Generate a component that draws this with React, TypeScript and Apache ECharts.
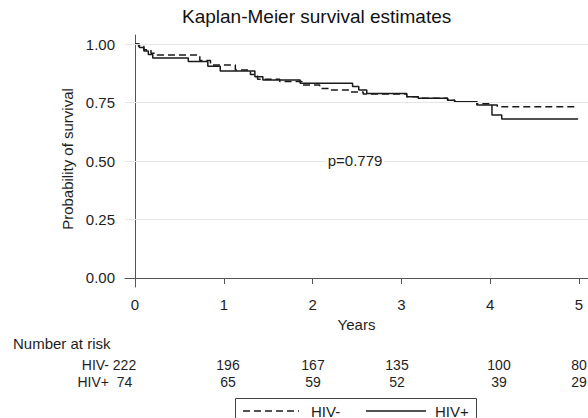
import React, { useEffect, useRef } from "react";
import * as echarts from "echarts";

// ---- Data ----
const hivNegTimes = [0, 0.04, 0.1, 0.18, 0.25, 0.73, 0.85, 1.13, 1.3, 1.38, 1.63, 1.88, 2.08, 2.2, 2.42, 2.57, 3.06, 3.19, 3.52, 3.6, 3.85, 4.0, 4.08, 4.99];
const hivNegSurv = [1.0, 0.99, 0.975, 0.96, 0.953, 0.929, 0.91, 0.889, 0.87, 0.849, 0.84, 0.825, 0.81, 0.803, 0.795, 0.786, 0.775, 0.768, 0.76, 0.753, 0.745, 0.739, 0.732, 0.732];
const hivPosTimes = [0, 0.05, 0.1, 0.15, 0.2, 0.6, 0.82, 0.96, 1.35, 1.44, 1.86, 2.45, 2.52, 2.61, 3.06, 3.19, 3.52, 3.6, 3.85, 4.02, 4.13, 4.99];
const hivPosSurv = [1.0, 0.985, 0.97, 0.955, 0.94, 0.925, 0.905, 0.885, 0.86, 0.846, 0.832, 0.818, 0.803, 0.789, 0.775, 0.768, 0.76, 0.753, 0.739, 0.697, 0.68, 0.68];

const xTicks = [0, 1, 2, 3, 4, 5];
const yTicks = [0, 0.25, 0.5, 0.75, 1];
const gridValues = [0.25, 0.5, 0.75, 1];

const seriesNames = ["HIV-", "HIV+"];
const riskHivNeg = [222, 196, 167, 135, 100, 80];
const riskHivPos = [74, 65, 59, 52, 39, 29];
const pValueText = "p=0.779";

// ---- Layout (pixels) ----
const riskColX = [124.5, 228, 313, 397, 499, 579];
const riskRowY = [364.5, 381.5];
const FONT = "'Liberation Sans', Arial, sans-serif";
const TXT = "#1e1e1e";
const LINE = "#1a1a1a";

export default function App() {
  const ref = useRef<HTMLDivElement>(null);
  useEffect(() => {
    document.body.style.margin = "0";
    if (!ref.current) return;
    const chart = echarts.init(ref.current, undefined, { renderer: "svg" });

    const negData = hivNegTimes.map((t, i) => [t, hivNegSurv[i]]);
    const posData = hivPosTimes.map((t, i) => [t, hivPosSurv[i]]);

    const graphics: any[] = [];
    graphics.push({
      type: "text",
      x: 67,
      y: 159,
      rotation: Math.PI / 2,
      style: { text: "Probability of survival", font: `15px ${FONT}`, fill: TXT, align: "center", verticalAlign: "middle" },
    });
    graphics.push({
      type: "text",
      x: 13,
      y: 343,
      style: { text: "Number at risk", font: `15px ${FONT}`, fill: TXT, align: "left", verticalAlign: "middle" },
    });
    [riskHivNeg, riskHivPos].forEach((row, r) => {
      graphics.push({
        type: "text",
        x: 109,
        y: riskRowY[r],
        style: { text: seriesNames[r], font: `14px ${FONT}`, fill: TXT, align: "right", verticalAlign: "middle" },
      });
      row.forEach((v, c) => {
        graphics.push({
          type: "text",
          x: riskColX[c],
          y: riskRowY[r],
          style: { text: String(v), font: `14px ${FONT}`, fill: TXT, align: "center", verticalAlign: "middle" },
        });
      });
    });
    graphics.push({
      type: "text",
      x: 355,
      y: 160,
      z: 100,
      style: {
        text: pValueText,
        font: `15px ${FONT}`,
        fill: TXT,
        align: "center",
        verticalAlign: "middle",
        backgroundColor: "#fff",
        padding: [0, 2],
      },
    });
    // Legend (Stata style box with line samples)
    graphics.push({
      type: "group",
      children: [
        { type: "rect", shape: { x: 235.5, y: 398.5, width: 241, height: 26 }, style: { fill: "#fff", stroke: "#444", lineWidth: 1 } },
        { type: "line", shape: { x1: 243, y1: 411, x2: 299, y2: 411 }, style: { stroke: LINE, lineWidth: 1.5, lineDash: [7, 4] } },
        { type: "text", x: 311, y: 411, style: { text: seriesNames[0], font: `15px ${FONT}`, fill: TXT, align: "left", verticalAlign: "middle" } },
        { type: "line", shape: { x1: 366, y1: 411, x2: 426, y2: 411 }, style: { stroke: LINE, lineWidth: 1.5 } },
        { type: "text", x: 435, y: 411, style: { text: seriesNames[1], font: `15px ${FONT}`, fill: TXT, align: "left", verticalAlign: "middle" } },
      ],
    });

    chart.setOption({
      animation: false,
      backgroundColor: "#fff",
      title: {
        text: "Kaplan-Meier survival estimates",
        left: 182,
        top: 7,
        padding: 0,
        textStyle: { fontFamily: FONT, fontSize: 19, fontWeight: "normal", color: "#111" },
      },
      grid: { left: 125, right: 0, top: 35, bottom: 131, containLabel: false },
      xAxis: {
        type: "value",
        min: -0.1126,
        max: 5.1014,
        name: "Years",
        nameLocation: "middle",
        nameGap: 25,
        nameTextStyle: { fontFamily: FONT, fontSize: 15, color: TXT },
        axisLine: { show: true, lineStyle: { color: "#555", width: 1 } },
        axisTick: { show: true, customValues: xTicks, length: 6, lineStyle: { color: "#555" } },
        axisLabel: { customValues: xTicks, margin: 10, fontFamily: FONT, fontSize: 15, color: TXT },
        splitLine: { show: false },
      },
      yAxis: {
        type: "value",
        min: -0.0385,
        max: 1.0385,
        axisLine: { show: true, lineStyle: { color: "#555", width: 1 } },
        axisTick: { show: true, customValues: yTicks, length: 7, lineStyle: { color: "#555" } },
        axisLabel: {
          customValues: yTicks,
          margin: 10,
          fontFamily: FONT,
          fontSize: 15,
          color: TXT,
          formatter: (v: number) => v.toFixed(2),
        },
        splitLine: { show: false },
      },
      series: [
        {
          name: "gridlines",
          type: "line",
          data: [[0, 1]],
          symbol: "none",
          lineStyle: { opacity: 0 },
          z: 1,
          silent: true,
          markLine: {
            silent: true,
            symbol: "none",
            label: { show: false },
            lineStyle: { color: "#e6e6e6", width: 1, type: "solid" },
            data: gridValues.map((v) => ({ yAxis: v })),
          },
        },
        {
          name: seriesNames[0],
          type: "line",
          step: "end",
          data: negData,
          showSymbol: false,
          symbol: "none",
          z: 3,
          lineStyle: { color: LINE, width: 1.5, type: [7, 4] },
          itemStyle: { color: LINE },
        },
        {
          name: seriesNames[1],
          type: "line",
          step: "end",
          data: posData,
          showSymbol: false,
          symbol: "none",
          z: 3,
          lineStyle: { color: LINE, width: 1.5, type: "solid" },
          itemStyle: { color: LINE },
        },
      ],
      graphic: graphics,
    });
    return () => chart.dispose();
  }, []);
  return <div ref={ref} style={{ width: 588, height: 418 }} />;
}
